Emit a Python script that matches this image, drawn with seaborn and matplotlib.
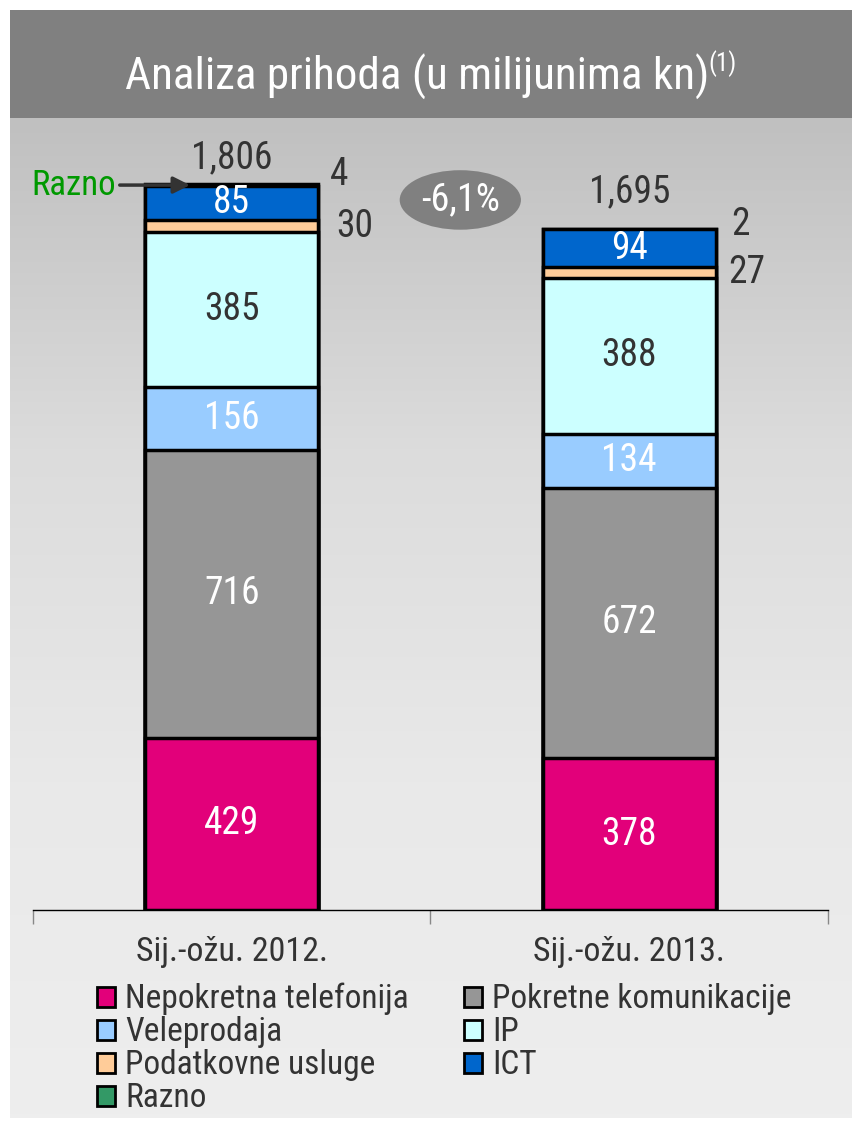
import numpy as np
import pandas as pd
import seaborn as sns
import matplotlib.pyplot as plt
from matplotlib.colors import LinearSegmentedColormap
from matplotlib.patches import Rectangle, Ellipse, Patch

# podaci (u milijunima kn)
periods = ['Sij.-ožu. 2012.', 'Sij.-ožu. 2013.']
segments = ['Nepokretna telefonija', 'Pokretne komunikacije', 'Veleprodaja',
            'IP', 'Podatkovne usluge', 'ICT', 'Razno']
nepokretna = [429, 378]
pokretne = [716, 672]
veleprodaja = [156, 134]
ip = [385, 388]
podatkovne = [30, 27]
ict = [85, 94]
razno = [4, 2]
total_labels = ['1,806', '1,695']
change_label = '-6,1%'

colors = ['#E2007A', '#969696', '#99CCFF', '#CCFFFF', '#FFCC99', '#0066CC', '#339966']
label_colors = ['white', 'white', 'white', '#333333', None, 'white', None]

df = pd.DataFrame([nepokretna, pokretne, veleprodaja, ip, podatkovne, ict, razno],
                  index=segments, columns=periods).T
cum = df.cumsum(axis=1)

sns.set_style('white')
plt.rcParams['font.family'] = ['Roboto Condensed', 'Archivo Narrow', 'DejaVu Sans']

W, H = 853, 1124
fig = plt.figure(figsize=(W / 100, H / 100), dpi=100)
fig.patch.set_facecolor('white')

# pozadina s gradijentom
bg = fig.add_axes([10 / W, (H - 1118) / H, (W - 10) / W, (1118 - 118) / H], zorder=0)
grad = np.linspace(0, 1, 256).reshape(-1, 1)
cmap = LinearSegmentedColormap.from_list('bg', ['#c0c0c0', '#dcdcdc', '#e9e9e9', '#eeeeee'])
bg.imshow(grad, aspect='auto', cmap=cmap, extent=[0, 1, 1, 0])
bg.set_axis_off()

# naslovna traka
fig.patches.append(Rectangle((10 / W, (H - 118) / H), (W - 10) / W, 108 / H,
                             transform=fig.transFigure, facecolor='#808080',
                             edgecolor='none', zorder=1))
t = fig.text(417 / W, 1 - 77 / H, 'Analiza prihoda (u milijunima kn)', color='white',
             fontsize=32.5, ha='center', va='center', zorder=2)

ax = fig.add_axes([33 / W, (H - 910) / H, (828 - 33) / W, 780 / H], zorder=3)
ax.set_facecolor('none')

# složeni stupci: crtamo kumulativne zbrojeve od vrha prema dnu
for seg, col in reversed(list(zip(segments, colors))):
    sns.barplot(x=periods, y=cum[seg].values, color=col, saturation=1,
                edgecolor='black', linewidth=2.5, width=0.435, errorbar=None, ax=ax)

ax.set_xlim(-0.5, 1.5)
ax.set_ylim(0, 1940)

# oznake unutar stupaca
for i in range(len(periods)):
    for seg, lc in zip(segments, label_colors):
        if lc is None:
            continue
        v = df.loc[periods[i], seg]
        mid = cum.loc[periods[i], seg] - v / 2
        ax.text(i, mid, f'{v}', color=lc, fontsize=27, ha='center', va='center')

# male vrijednosti i ukupni iznosi
tot = cum['Razno'].values
for i, (dx_r, dy_r, dx_p, dy_tot) in enumerate([(0.27, 25, 0.31, 67), (0.28, 11, 0.295, 91)]):
    ax.text(i + dx_r, tot[i] + dy_r, f"{razno[i]}", color='#333333', fontsize=27,
            ha='center', va='center')
    pmid = cum['Podatkovne usluge'].values[i] - podatkovne[i] / 2
    ax.text(i + dx_p, pmid, f"{podatkovne[i]}", color='#333333', fontsize=27,
            ha='center', va='center')
    ax.text(i, tot[i] + dy_tot, total_labels[i], color='#333333', fontsize=27,
            ha='center', va='center')

# promjena
ax.add_patch(Ellipse((0.575, 1766), 0.305, 148, facecolor='#808080', edgecolor='none', zorder=5))
ax.text(0.575, 1766, change_label, color='white', fontsize=27.5, ha='center', va='center', zorder=6)

# strelica Razno
ax.annotate('Razno', xy=(-0.105, tot[0] - 2), xytext=(-0.29, tot[0] - 2),
            color='#009900', fontsize=25, ha='right', va='center',
            arrowprops=dict(arrowstyle='-|>', color='#333333', lw=2.5, mutation_scale=25,
                            shrinkA=0, shrinkB=0),
            annotation_clip=False)

# os
for s in ['top', 'left', 'right']:
    ax.spines[s].set_visible(False)
ax.spines['bottom'].set_color('black')
ax.spines['bottom'].set_linewidth(1)
ax.set_yticks([])
ax.set_xticks([0, 1])
ax.set_xticklabels(periods, fontsize=24.5, color='#333333')
ax.tick_params(axis='x', which='major', bottom=True, length=0, pad=19)
ax.set_xticks([-0.5, 0.5, 1.5], minor=True)
ax.tick_params(axis='x', which='minor', bottom=True, length=10, color='#888888', width=1)
ax.set_xlabel('')
ax.set_ylabel('')

# legenda
order = [0, 2, 4, 6, 1, 3, 5]
handles = [Patch(facecolor=colors[k], edgecolor='black', linewidth=2, label=segments[k]) for k in order]
fig.legend(handles=handles, ncol=2, loc='upper left', bbox_to_anchor=(97 / W, 1 - 983 / H),
           frameon=False, fontsize=24, labelcolor='#333333', handlelength=0.55,
           handleheight=0.55, handletextpad=0.3, labelspacing=0.03, columnspacing=1.65,
           borderpad=0, borderaxespad=0)

# eksponent (1) uz naslov
fig.canvas.draw()
bb = t.get_window_extent()
fig.text(bb.x1 / W - 0.001, 1 - 64 / H, '(1)', color='white', fontsize=18,
         ha='left', va='center', zorder=2)

fig.savefig('out.png', dpi=100)
